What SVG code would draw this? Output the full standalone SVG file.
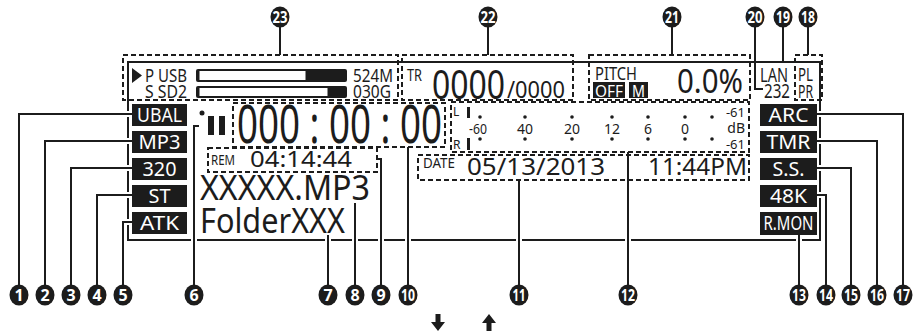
<svg xmlns="http://www.w3.org/2000/svg" width="915" height="334" viewBox="0 0 915 334">
<style>
text{font-family:"Noto Sans","Liberation Sans",Arial,sans-serif;fill:#1c1c1c}
.frame{fill:none;stroke:#1c1c1c;stroke-width:2}
.dash{fill:none;stroke:#1c1c1c;stroke-width:2;stroke-dasharray:5 3}
.halo{fill:none;stroke:#fff;stroke-width:6}
.lead{fill:none;stroke:#1c1c1c;stroke-width:2}
.dot{fill:#1c1c1c}
.badge{fill:#1c1c1c}
.bt{fill:#fff;font-size:20px;text-anchor:middle}
.n{fill:#fff;font-size:16px;font-weight:bold;text-anchor:middle}
.m{font-size:14px;text-anchor:middle}
</style>

<g id="lcd-frame">
<rect class="frame" x="128" y="62" width="692" height="178"/>
</g>

<g id="connectors">
<path class="halo" d="M132,114H19V285M132,141H45V285M132,168H71V285M132,195H97V285M132,222H123V285M199,126H194V285M328,235V285M355,203V285M377,159H381V285M408,147V285M519,180V285M628,152V285M799,235V285M817,195H826V285M817,168H851V285M817,141H877V285M817,114H903V285"/>
<path class="lead" d="M132,114H19V285"/>
<path class="lead" d="M132,141H45V285"/>
<path class="lead" d="M132,168H71V285"/>
<path class="lead" d="M132,195H97V285"/>
<path class="lead" d="M132,222H123V285"/>
<path class="lead" d="M199,126H194V285"/>
<path class="lead" d="M328,235V285"/>
<path class="lead" d="M355,203V285"/>
<path class="lead" d="M377,159H381V285"/>
<path class="lead" d="M408,147V285"/>
<path class="lead" d="M519,180V285"/>
<path class="lead" d="M628,152V285"/>
<path class="lead" d="M799,235V285"/>
<path class="lead" d="M817,195H826V285"/>
<path class="lead" d="M817,168H851V285"/>
<path class="lead" d="M817,141H877V285"/>
<path class="lead" d="M817,114H903V285"/>
<path class="lead" d="M808,27V55"/>
<path class="lead" d="M783,27V62"/>
<path class="lead" d="M755,27V89H763"/>
<path class="lead" d="M672,27V55"/>
<path class="lead" d="M488,27V55"/>
<path class="lead" d="M280,27V55"/>
</g>

<g id="media-status">
<rect class="dash" x="123" y="55" width="275" height="45"/>
<polygon class="dot" points="132,68 132,83 142,75.5"/>
<text x="145" y="82" font-size="18" textLength="42" lengthAdjust="spacingAndGlyphs">P USB</text>
<text x="145" y="98" font-size="18" textLength="42" lengthAdjust="spacingAndGlyphs">S SD2</text>
<rect x="196" y="69" width="151" height="13" rx="2" fill="#1c1c1c"/>
<rect x="199.5" y="71" width="106" height="9" fill="#fff"/>
<rect x="196" y="86" width="151" height="12" rx="2" fill="#1c1c1c"/>
<rect x="199.5" y="88" width="128" height="8" fill="#fff"/>
<text x="353" y="82" font-size="18" textLength="40" lengthAdjust="spacingAndGlyphs">524M</text>
<text x="353" y="98" font-size="18" textLength="38" lengthAdjust="spacingAndGlyphs">030G</text>
</g>

<g id="track-number">
<rect class="dash" x="402" y="55" width="171" height="45"/>
<text x="407" y="81" font-size="16" textLength="15" lengthAdjust="spacingAndGlyphs">TR</text>
<text x="432" y="99" font-size="40" textLength="73" lengthAdjust="spacingAndGlyphs">0000</text>
<text x="507" y="98" font-size="23" textLength="58" lengthAdjust="spacingAndGlyphs">/0000</text>
</g>

<g id="pitch">
<rect class="dash" x="589" y="55" width="161" height="45"/>
<text x="595" y="80" font-size="18" textLength="42" lengthAdjust="spacingAndGlyphs">PITCH</text>
<rect x="593" y="82" width="32" height="16" fill="#1c1c1c"/>
<text x="609" y="97" font-size="17" style="fill:#fff" text-anchor="middle" textLength="28" lengthAdjust="spacingAndGlyphs">OFF</text>
<rect x="629" y="82" width="19" height="16" fill="#1c1c1c"/>
<text x="638.5" y="97" font-size="17" style="fill:#fff" text-anchor="middle" textLength="13" lengthAdjust="spacingAndGlyphs">M</text>
<text x="677" y="93" font-size="33" textLength="66" lengthAdjust="spacingAndGlyphs">0.0%</text>
</g>

<g id="lan">
<text x="760" y="82" font-size="19" textLength="28" lengthAdjust="spacingAndGlyphs">LAN</text>
<text x="764" y="98" font-size="19" textLength="26" lengthAdjust="spacingAndGlyphs">232</text>
</g>

<g id="play-list">
<rect class="dash" x="795" y="55" width="27" height="45"/>
<text x="798" y="81" font-size="18" textLength="15" lengthAdjust="spacingAndGlyphs">PL</text>
<text x="798" y="98" font-size="18" textLength="15" lengthAdjust="spacingAndGlyphs">PR</text>
</g>

<g id="left-badges">
<rect class="badge" x="132" y="104" width="55" height="22"/>
<text class="bt" x="159.5" y="122" textLength="45" lengthAdjust="spacingAndGlyphs">UBAL</text>
<rect class="badge" x="132" y="131" width="55" height="22"/>
<text class="bt" x="159.5" y="149" textLength="42" lengthAdjust="spacingAndGlyphs">MP3</text>
<rect class="badge" x="132" y="158" width="55" height="22"/>
<text class="bt" x="159.5" y="176" textLength="34" lengthAdjust="spacingAndGlyphs">320</text>
<rect class="badge" x="132" y="185" width="55" height="22"/>
<text class="bt" x="159.5" y="203" textLength="22" lengthAdjust="spacingAndGlyphs">ST</text>
<rect class="badge" x="132" y="212" width="55" height="22"/>
<text class="bt" x="159.5" y="230" textLength="39" lengthAdjust="spacingAndGlyphs">ATK</text>
</g>

<g id="right-badges">
<rect class="badge" x="760" y="104" width="57" height="22"/>
<text class="bt" x="788.5" y="122" textLength="40" lengthAdjust="spacingAndGlyphs">ARC</text>
<rect class="badge" x="760" y="131" width="57" height="22"/>
<text class="bt" x="788.5" y="149" textLength="44" lengthAdjust="spacingAndGlyphs">TMR</text>
<rect class="badge" x="760" y="158" width="57" height="22"/>
<text class="bt" x="788.5" y="176" textLength="32" lengthAdjust="spacingAndGlyphs">S.S.</text>
<rect class="badge" x="760" y="185" width="57" height="22"/>
<text class="bt" x="788.5" y="203" textLength="37" lengthAdjust="spacingAndGlyphs">48K</text>
<rect class="badge" x="760" y="212" width="57" height="23"/>
<text class="bt" x="788.5" y="230" textLength="50" lengthAdjust="spacingAndGlyphs">R.MON</text>
</g>

<g id="transport">
<circle class="dot" cx="202" cy="113" r="2.5"/>
<rect class="dot" x="208" y="116" width="6" height="19"/>
<rect class="dot" x="219" y="116" width="6" height="19"/>
</g>

<g id="time-counter">
<rect class="dash" x="233" y="103" width="212" height="44"/>
<text x="237" y="143" font-size="52" textLength="205" lengthAdjust="spacingAndGlyphs">000 : 00 : 00</text>
</g>

<g id="remaining">
<rect class="dash" x="208" y="148" width="169" height="24"/>
<text x="211" y="165" font-size="14" textLength="24" lengthAdjust="spacingAndGlyphs">REM</text>
<text x="250" y="167" font-size="21" textLength="102" lengthAdjust="spacingAndGlyphs">04:14:44</text>
</g>

<g id="file-folder">
<text x="200" y="200" font-size="34" textLength="170" lengthAdjust="spacingAndGlyphs">XXXXX.MP3</text>
<text x="200" y="233" font-size="35" textLength="145" lengthAdjust="spacingAndGlyphs">FolderXXX</text>
</g>

<g id="level-meter">
<rect class="dash" x="451" y="102" width="298" height="50"/>
<text x="453" y="116" font-size="12">L</text>
<text x="453" y="149" font-size="12">R</text>
<rect class="dot" x="467" y="107" width="3" height="11"/>
<rect class="dot" x="467" y="138" width="3" height="12"/>
<g class="dot">
<circle cx="480" cy="117" r="1.8"/><circle cx="525" cy="117" r="1.8"/><circle cx="572" cy="117" r="1.8"/><circle cx="612" cy="117" r="1.8"/><circle cx="648" cy="117" r="1.8"/><circle cx="685" cy="117" r="1.8"/><circle cx="712" cy="117" r="1.8"/>
<circle cx="480" cy="139" r="1.8"/><circle cx="525" cy="139" r="1.8"/><circle cx="572" cy="139" r="1.8"/><circle cx="612" cy="139" r="1.8"/><circle cx="648" cy="139" r="1.8"/><circle cx="685" cy="139" r="1.8"/><circle cx="712" cy="139" r="1.8"/>
</g>
<text class="m" x="478" y="134" textLength="18" lengthAdjust="spacingAndGlyphs">-60</text>
<text class="m" x="525" y="134">40</text>
<text class="m" x="572" y="134">20</text>
<text class="m" x="612" y="134">12</text>
<text class="m" x="648" y="134">6</text>
<text class="m" x="685" y="134">0</text>
<text x="745" y="117" font-size="13" text-anchor="end">-61</text>
<text x="745" y="133" font-size="14" text-anchor="end">dB</text>
<text x="745" y="149" font-size="13" text-anchor="end">-61</text>
</g>

<g id="date-time">
<rect class="dash" x="418" y="155" width="331" height="25"/>
<text x="423" y="168" font-size="14" textLength="32" lengthAdjust="spacingAndGlyphs">DATE</text>
<text x="467" y="175" font-size="24" textLength="138" lengthAdjust="spacingAndGlyphs">05/13/2013</text>
<text x="648" y="175" font-size="24" textLength="99" lengthAdjust="spacingAndGlyphs">11:44PM</text>
</g>

<g id="callout-numbers">
<g fill="#1c1c1c">
<ellipse cx="19" cy="295" rx="9.5" ry="10.5"/><ellipse cx="45" cy="295" rx="9.5" ry="10.5"/><ellipse cx="71" cy="295" rx="9.5" ry="10.5"/><ellipse cx="97" cy="295" rx="9.5" ry="10.5"/><ellipse cx="123" cy="295" rx="9.5" ry="10.5"/><ellipse cx="194" cy="295" rx="9.5" ry="10.5"/><ellipse cx="328" cy="295" rx="9.5" ry="10.5"/><ellipse cx="355" cy="295" rx="9.5" ry="10.5"/><ellipse cx="381" cy="295" rx="9.5" ry="10.5"/><ellipse cx="408" cy="295" rx="9.5" ry="10.5"/><ellipse cx="519" cy="295" rx="9.5" ry="10.5"/><ellipse cx="628" cy="295" rx="9.5" ry="10.5"/><ellipse cx="799" cy="295" rx="9.5" ry="10.5"/><ellipse cx="826" cy="295" rx="9.5" ry="10.5"/><ellipse cx="851" cy="295" rx="9.5" ry="10.5"/><ellipse cx="877" cy="295" rx="9.5" ry="10.5"/><ellipse cx="903" cy="295" rx="9.5" ry="10.5"/>
<ellipse cx="808" cy="17" rx="9.5" ry="10.5"/><ellipse cx="783" cy="17" rx="9.5" ry="10.5"/><ellipse cx="755" cy="17" rx="9.5" ry="10.5"/><ellipse cx="672" cy="17" rx="9.5" ry="10.5"/><ellipse cx="488" cy="17" rx="9.5" ry="10.5"/><ellipse cx="280" cy="17" rx="9.5" ry="10.5"/>
</g>
<text class="n" x="19" y="301">1</text>
<text class="n" x="45" y="301">2</text>
<text class="n" x="71" y="301">3</text>
<text class="n" x="97" y="301">4</text>
<text class="n" x="123" y="301">5</text>
<text class="n" x="194" y="301">6</text>
<text class="n" x="328" y="301">7</text>
<text class="n" x="355" y="301">8</text>
<text class="n" x="381" y="301">9</text>
<text class="n" x="408" y="301" textLength="14" lengthAdjust="spacingAndGlyphs">10</text>
<text class="n" x="519" y="301" textLength="13" lengthAdjust="spacingAndGlyphs">11</text>
<text class="n" x="628" y="301" textLength="14" lengthAdjust="spacingAndGlyphs">12</text>
<text class="n" x="799" y="301" textLength="14" lengthAdjust="spacingAndGlyphs">13</text>
<text class="n" x="826" y="301" textLength="14" lengthAdjust="spacingAndGlyphs">14</text>
<text class="n" x="851" y="301" textLength="14" lengthAdjust="spacingAndGlyphs">15</text>
<text class="n" x="877" y="301" textLength="14" lengthAdjust="spacingAndGlyphs">16</text>
<text class="n" x="903" y="301" textLength="14" lengthAdjust="spacingAndGlyphs">17</text>
<text class="n" x="808" y="23" textLength="14" lengthAdjust="spacingAndGlyphs">18</text>
<text class="n" x="783" y="23" textLength="14" lengthAdjust="spacingAndGlyphs">19</text>
<text class="n" x="755" y="23" textLength="15" lengthAdjust="spacingAndGlyphs">20</text>
<text class="n" x="672" y="23" textLength="14" lengthAdjust="spacingAndGlyphs">21</text>
<text class="n" x="488" y="23" textLength="15" lengthAdjust="spacingAndGlyphs">22</text>
<text class="n" x="280" y="23" textLength="15" lengthAdjust="spacingAndGlyphs">23</text>
</g>

<g id="arrows" fill="#1c1c1c">
<polygon points="435.5,314 440.5,314 440.5,322 445,322 438,331 431,322 435.5,322"/>
<polygon points="489,314 496,323 491.5,323 491.5,331 486.5,331 486.5,323 482,323"/>
</g>
</svg>
